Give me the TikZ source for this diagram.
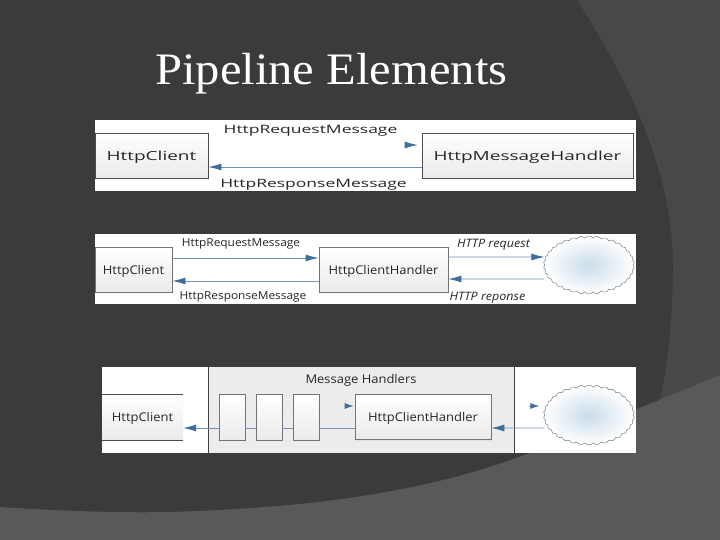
\documentclass[tikz,border=0pt]{standalone}
\usepackage{fontspec}
\usepackage{tikz}
\usetikzlibrary{arrows.meta,shapes.symbols,shadows}
\setmainfont{Liberation Serif}
\newfontfamily\titleface[FakeStretch=1.08]{Liberation Serif}
\newfontfamily\labelface[FakeStretch=1.08]{Open Sans}
\newfontfamily\wideface[FakeStretch=1.52]{Open Sans}
\definecolor{slate}{HTML}{3B3B3B}
\definecolor{slatemid}{HTML}{484848}
\definecolor{slatelight}{HTML}{595959}
\definecolor{flowblue}{HTML}{6C93B5}
\definecolor{tipblue}{HTML}{3F6E9C}
\definecolor{cloudblue}{HTML}{C9DCEA}
\definecolor{panelgrey}{HTML}{ECECEC}

\begin{document}
\begin{tikzpicture}[x=1pt,y=-1pt]
	\tikzstyle{every node}+=[inner sep=0pt]
	\tikzstyle{box}=[rectangle,draw=black!70,line width=0.8pt,top color=white,bottom color=black!8]
	\tikzstyle{softbox}=[box,draw=black!55,general shadow={shadow xshift=1pt,shadow yshift=-1pt,fill=black!12}]
	\tikzstyle{flowplain}=[draw=flowblue,line width=0.8pt]
	\tikzstyle{flow}=[flowplain,-{Latex[length=13pt,width=7pt,color=tipblue]}]
	\tikzstyle{flowshort}=[flowplain,-{Latex[length=9pt,width=6pt,color=tipblue]}]
	\tikzstyle{internet}=[cloud,cloud puffs=34,cloud puff arc=110,aspect=1.6,draw=black!60,line width=0.4pt,inner color=cloudblue,outer color=white,minimum width=91pt,minimum height=58pt]
	\tikzstyle{boxtext}=[font=\labelface\fontsize{12}{14}\selectfont,text=black!85,text depth=0pt]
	\tikzstyle{small}=[font=\labelface\fontsize{11}{13}\selectfont,text=black!85,text depth=0pt]
	\tikzstyle{slanted}=[font=\labelface\itshape\fontsize{11.6}{13}\selectfont,text=black!85,text depth=0pt]
	\tikzstyle{wide}=[font=\wideface\fontsize{11.5}{13}\selectfont,text=black!85,text depth=0pt]
	\tikzstyle{widebox}=[font=\wideface\fontsize{12.5}{14}\selectfont,text=black!85,text depth=0pt]
	\useasboundingbox (0,0) rectangle (720,540);
	% background
	\fill [slate] (0,0) rectangle (720,540);
	\fill [slatemid] (577,0) .. controls (625,75) and (675,170) .. (673,273) .. controls (672,320) and (668,365) .. (660,400) -- (720,375) -- (720,0) -- cycle;
	\fill [slatelight] (0,507) .. controls (60,511) and (120,513) .. (170,512) .. controls (300,508) and (420,495) .. (530,453) -- (720,375) -- (720,540) -- (0,540) -- cycle;
	\node (title) [anchor=base west,text=white,font=\titleface\fontsize{45}{50}\selectfont] at (155,85) {Pipeline Elements};
	% first row
	\fill [white] (95,120) rectangle (636,191);
	\node (client1) [box,minimum width=113pt,minimum height=45pt,widebox] at (151.5,155.5) {HttpClient};
	\node (handler1) [box,minimum width=211pt,minimum height=45pt,widebox] at (527.5,155.5) {HttpMessageHandler};
	\draw [flow] ([xshift=-17pt,yshift=10.5pt]handler1.west) -- ([xshift=-4pt,yshift=10.5pt]handler1.west);
	\draw [flow] ([yshift=-11.5pt]handler1.west) -- ([yshift=-11.5pt]client1.east);
	\node (request1) [wide] at (310.5,129) {HttpRequestMessage};
	\node (response1) [wide] at (313.5,183) {HttpResponseMessage};
	% second row
	\fill [white] (95,234) rectangle (636,304);
	\node (client2) [softbox,minimum width=77pt,minimum height=45pt,boxtext] at (133.5,269.5) {HttpClient};
	\node (handler2) [softbox,minimum width=129pt,minimum height=45pt,boxtext] at (383.5,269.5) {HttpClientHandler};
	\node (cloud2) [internet] at (589,265) {};
	\draw [flow] ([yshift=11.5pt]client2.east) -- ([yshift=11.5pt]handler2.west);
	\draw [flow] ([yshift=-11.5pt]handler2.west) -- ([yshift=-11.5pt]client2.east);
	\draw [flow] ([yshift=12.5pt]handler2.east) -- ([yshift=8pt]cloud2.west);
	\draw [flow] ([yshift=-14pt]cloud2.west) -- ([yshift=-9.5pt]handler2.east);
	\node (request2) [small] at (241,243) {HttpRequestMessage};
	\node (response2) [small] at (243,296) {HttpResponseMessage};
	\node (wirereq2) [slanted] at (493.5,243) {HTTP request};
	\node (wireres2) [slanted] at (487.5,296) {HTTP reponse};
	% third row
	\fill [white] (102,367) rectangle (636,453);
	\fill [panelgrey] (208,367) rectangle (514,453);
	\draw [black!75] (208,367) -- (208,453);
	\draw [black!75] (514,367) -- (514,453);
	\node (title3) [boxtext] at (361,379) {Message Handlers};
	\node (client3) [minimum width=81pt,minimum height=46pt,boxtext,top color=white,bottom color=black!8] at (142.5,417) {HttpClient};
	\draw [black!70] (client3.north west) -- (client3.north east);
	\draw [black!70] (client3.south west) -- (client3.south east);
	\node (step1) [softbox,minimum width=26pt,minimum height=46pt] at (232,417) {};
	\node (step2) [softbox,minimum width=26pt,minimum height=46pt] at (269,417) {};
	\node (step3) [softbox,minimum width=26pt,minimum height=46pt] at (306,417) {};
	\node (handler3) [softbox,minimum width=136pt,minimum height=45pt,boxtext] at (423,417) {HttpClientHandler};
	\node (cloud3) [internet,minimum height=60pt] at (589,415) {};
	\draw [flowplain] ([yshift=-11pt]handler3.west) -- ([yshift=-11pt]step3.east);
	\draw [flowplain] ([yshift=-11pt]step3.west) -- ([yshift=-11pt]step2.east);
	\draw [flowplain] ([yshift=-11pt]step2.west) -- ([yshift=-11pt]step1.east);
	\draw [flow] ([yshift=-11pt]step1.west) -- ([yshift=-11pt]client3.east);
	\draw [flow] ([yshift=-13pt]cloud3.west) -- ([yshift=-11pt]handler3.east);
	\draw [flowshort] ([xshift=-10pt,yshift=11pt]handler3.west) -- ([xshift=-1pt,yshift=11pt]handler3.west);
	\draw [flowshort] ([xshift=-15pt,yshift=9pt]cloud3.west) -- ([xshift=-5pt,yshift=9pt]cloud3.west);
\end{tikzpicture}
\end{document}
